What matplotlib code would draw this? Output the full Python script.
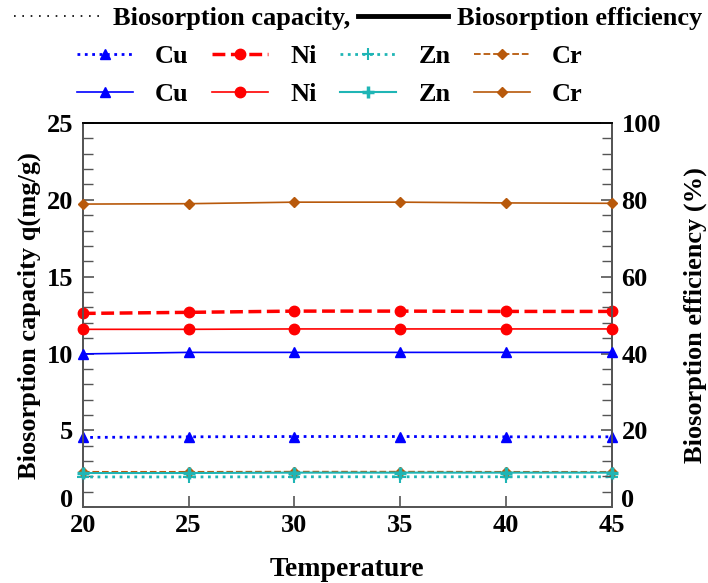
import matplotlib
matplotlib.use("Agg")
import matplotlib.pyplot as plt
from matplotlib.lines import Line2D
from matplotlib.ticker import MultipleLocator
from matplotlib.transforms import ScaledTranslation

plt.rcParams['font.family'] = ['Liberation Serif', 'DejaVu Serif']
plt.rcParams['font.weight'] = 'bold'

temperature = [20, 25, 30, 35, 40, 45]
# Biosorption capacity q (mg/g)
cap_cu = [4.54, 4.58, 4.60, 4.60, 4.58, 4.58]
cap_ni = [12.61, 12.68, 12.76, 12.76, 12.74, 12.74]
cap_zn = [1.97, 1.97, 1.98, 1.98, 1.98, 1.98]
cap_cr = [2.30, 2.30, 2.31, 2.31, 2.30, 2.30]
# Biosorption efficiency (%)
eff_cu = [39.9, 40.3, 40.3, 40.3, 40.3, 40.3]
eff_ni = [46.3, 46.3, 46.4, 46.4, 46.4, 46.4]
eff_zn = [8.9, 8.9, 9.0, 9.0, 9.0, 9.0]
eff_cr = [78.9, 79.0, 79.4, 79.4, 79.2, 79.1]

c_cu = '#0000ff'
c_ni = '#ff0000'
c_zn = '#1fb5b5'
c_cr = '#b8590b'

FS = 19

fig = plt.figure(figsize=(7.08, 5.83), dpi=100)
ax = fig.add_axes([0.117, 0.130, 0.747, 0.659])
ax2 = ax.twinx()

h_cu_c, = ax.plot(temperature, cap_cu, color=c_cu, ls=':', lw=2, marker='^', ms=7.5, clip_on=False, zorder=3)
h_ni_c, = ax.plot(temperature, cap_ni, color=c_ni, ls='--', lw=2.5, marker='o', ms=7.5, clip_on=False, zorder=3)
h_zn_c, = ax.plot(temperature, cap_zn, color=c_zn, ls=':', lw=2, marker='+', ms=8, mew=1.5, clip_on=False, zorder=3)
h_cr_c, = ax.plot(temperature, cap_cr, color=c_cr, ls='--', lw=1.3, marker='D', ms=5.5, clip_on=False, zorder=3)

h_cu_e, = ax2.plot(temperature, eff_cu, color=c_cu, ls='-', lw=1.2, marker='^', ms=7.5, clip_on=False, zorder=3)
h_ni_e, = ax2.plot(temperature, eff_ni, color=c_ni, ls='-', lw=1.2, marker='o', ms=7.5, clip_on=False, zorder=3)
h_zn_e, = ax2.plot(temperature, eff_zn, color=c_zn, ls='-', lw=1.5, marker='+', ms=8, mew=2.5, clip_on=False, zorder=3)
h_cr_e, = ax2.plot(temperature, eff_cr, color=c_cr, ls='-', lw=1.2, marker='D', ms=5.5, clip_on=False, zorder=3)

ax.set_xlim(20, 45)
ax.set_ylim(0, 25)
ax2.set_ylim(0, 100)
ax.xaxis.set_major_locator(MultipleLocator(5))
ax.yaxis.set_major_locator(MultipleLocator(5))
ax.yaxis.set_minor_locator(MultipleLocator(1))
ax2.yaxis.set_major_locator(MultipleLocator(20))
ax2.yaxis.set_minor_locator(MultipleLocator(4))

for a in (ax, ax2):
    a.tick_params(which='both', direction='in', labelsize=FS, color='#555555')
    a.tick_params(which='major', length=8, width=1.2)
    a.tick_params(which='minor', length=7, width=1.0)
    for s in a.spines.values():
        s.set_color('#555555')
        s.set_linewidth(1.3)
ax.spines['top'].set_color('black')
ax2.spines['top'].set_color('black')
ax.tick_params(axis='x', pad=5)
ax.tick_params(axis='y', pad=7)
ax2.tick_params(axis='y', pad=7)

ax.set_xlabel('Temperature', fontsize=20, fontweight='bold', labelpad=14)
ax.set_ylabel('Biosorption capacity q(mg/g)', fontsize=FS, fontweight='bold', labelpad=4)
ax2.set_ylabel('Biosorption efficiency (%)', fontsize=FS, fontweight='bold', labelpad=16)

fig.canvas.draw()
# lift the "0" labels on both y axes a little (as in the reference)
shift = ScaledTranslation(0, 6.5 / 72, fig.dpi_scale_trans)
for a in (ax, ax2):
    for t in a.yaxis.get_major_ticks():
        for lab in (t.label1, t.label2):
            if lab.get_text() == '0':
                lab.set_transform(lab.get_transform() + shift)

# top legend line
top_handles = [Line2D([], [], color='black', ls=(0, (1, 4)), lw=1.2),
               Line2D([], [], color='black', ls='-', lw=3.5)]
fig.legend(top_handles, ['Biosorption capacity,', 'Biosorption efficiency'], ncol=2,
           loc='center', bbox_to_anchor=(0.506, 0.968), frameon=False,
           prop={'size': FS, 'weight': 'bold'}, handlelength=3.4, handletextpad=0.35,
           columnspacing=0.3, borderaxespad=0, borderpad=0)

handles = [h_cu_c, h_ni_c, h_zn_c, h_cr_c, h_cu_e, h_ni_e, h_zn_e, h_cr_e]
labels = ['Cu', 'Ni', 'Zn', 'Cr', 'Cu', 'Ni', 'Zn', 'Cr']
# reorder for column-major filling with 4 columns, 2 rows
order = [0, 4, 1, 5, 2, 6, 3, 7]
fig.legend([handles[i] for i in order], [labels[i] for i in order], ncol=4,
           loc='center', bbox_to_anchor=(0.466, 0.871), frameon=False,
           prop={'size': FS, 'weight': 'bold'}, handlelength=2.1, handletextpad=0.85,
           columnspacing=0.9, numpoints=1, labelspacing=0.55, borderaxespad=0, borderpad=0)

fig.savefig('out.png', dpi=100)
